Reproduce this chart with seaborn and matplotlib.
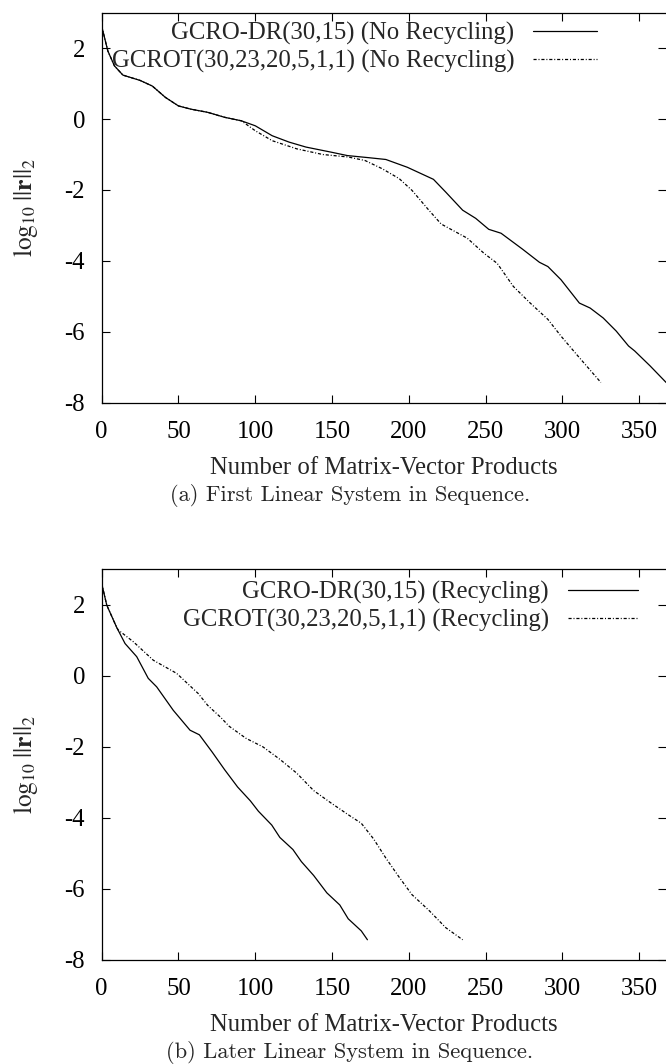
import numpy as np
import pandas as pd
import matplotlib
matplotlib.use("Agg")
import matplotlib.pyplot as plt
import seaborn as sns

# --- data (x: matrix-vector products, y: log10 residual) ---
a_dr_x = [0, 4, 8.3, 13.8, 25, 33, 41.5, 50, 58, 69, 80, 91, 100, 111, 122, 133, 149,
          160, 174, 185, 199, 216, 224, 235, 243.5, 252, 260, 274, 285, 290.5, 299, 311,
          318, 326.5, 335, 343, 347, 357, 367.5]
a_dr_y = [2.62, 1.92, 1.50, 1.24, 1.09, 0.93, 0.61, 0.37, 0.28, 0.19, 0.05, -0.05, -0.19,
          -0.47, -0.65, -0.79, -0.93, -1.03, -1.09, -1.14, -1.36, -1.70, -2.06, -2.57,
          -2.80, -3.11, -3.22, -3.67, -4.04, -4.16, -4.53, -5.19, -5.33, -5.61, -5.98,
          -6.40, -6.54, -6.96, -7.43]

a_ot_x = [0, 4, 8.3, 13.8, 25, 33, 41.5, 50, 58, 69, 80, 91, 100, 111, 127, 144, 160.5,
          171.5, 182.6, 193.7, 202, 213, 221, 238, 249, 257.5, 268, 279, 290.5, 299, 310, 325]
a_ot_y = [2.62, 1.92, 1.50, 1.24, 1.09, 0.93, 0.61, 0.37, 0.28, 0.19, 0.05, -0.05, -0.33,
          -0.61, -0.84, -1.00, -1.07, -1.17, -1.40, -1.68, -2.01, -2.57, -2.96, -3.36,
          -3.79, -4.07, -4.72, -5.19, -5.65, -6.12, -6.68, -7.43]

b_dr_x = [0, 3.3, 9.8, 15.2, 22.8, 30.3, 35.8, 46.6, 57.5, 63.6, 72, 80, 88.5, 96.8, 102,
          110.7, 116, 124.5, 130, 138, 146.6, 155, 160.5, 169, 173]
b_dr_y = [2.60, 1.99, 1.36, 0.91, 0.54, -0.07, -0.31, -0.97, -1.53, -1.66, -2.15, -2.64,
          -3.13, -3.52, -3.81, -4.20, -4.55, -4.89, -5.23, -5.62, -6.11, -6.45, -6.84,
          -7.18, -7.43]

b_ot_x = [0, 3.3, 9.8, 10.8, 20.6, 33.6, 48.8, 62.9, 69, 77.5, 83, 94, 105, 116, 127, 138,
          149, 160.5, 169, 177, 185, 193.7, 202, 213, 224, 235]
b_ot_y = [2.60, 1.99, 1.36, 1.29, 0.96, 0.44, 0.07, -0.50, -0.83, -1.17, -1.42, -1.76,
          -2.00, -2.35, -2.74, -3.23, -3.57, -3.91, -4.15, -4.59, -5.13, -5.67, -6.16,
          -6.60, -7.09, -7.43]

x_ticks = [0, 50, 100, 150, 200, 250, 300, 350]
y_ticks = [-8, -6, -4, -2, 0, 2]

panels = [
    {
        "series": [("GCRO-DR(30,15) (No Recycling)", a_dr_x, a_dr_y),
                   ("GCROT(30,23,20,5,1,1) (No Recycling)", a_ot_x, a_ot_y)],
        "caption": "(a) First Linear System in Sequence.",
    },
    {
        "series": [("GCRO-DR(30,15) (Recycling)", b_dr_x, b_dr_y),
                   ("GCROT(30,23,20,5,1,1) (Recycling)", b_ot_x, b_ot_y)],
        "caption": "(b) Later Linear System in Sequence.",
    },
]

sns.set_theme(style="ticks")
plt.rcParams["font.family"] = ["Liberation Serif", "DejaVu Serif"]
plt.rcParams["mathtext.fontset"] = "stix"
plt.rcParams["axes.unicode_minus"] = False

W, H = 666, 1064
fig = plt.figure(figsize=(W / 100, H / 100), dpi=100)

# axes boxes in pixels: (left, top, right, bottom)
boxes = [(101.7, 12.7, 666, 402.7), (101.7, 569.3, 666, 960)]
legend_anchor = [(597, 22), (638, 581)]
handle_len = [2.6, 2.85]
fs = 17.8
styles = ["-", (0, (2.5, 1.5, 0.8, 1.5))]

for i, panel in enumerate(panels):
    l, t, r, b = boxes[i]
    ax = fig.add_axes([l / W, 1 - b / H, (r - l) / W, (b - t) / H])
    for (label, xs, ys), ls in zip(panel["series"], styles):
        df = pd.DataFrame({"x": xs, "y": ys})
        sns.lineplot(data=df, x="x", y="y", ax=ax, color="black", lw=0.9,
                     linestyle=ls, label=label, sort=False, estimator=None)
    ax.set_xlim(0, 367.4)
    ax.set_ylim(-8, 3)
    ax.set_xticks(x_ticks)
    ax.set_yticks(y_ticks)
    ax.tick_params(direction="in", top=True, right=True, length=6, width=0.8,
                   labelsize=fs, pad=13, colors="black")
    ax.tick_params(axis="y", pad=12)
    for side in ["left", "bottom", "top"]:
        ax.spines[side].set_linewidth(0.9)
        ax.spines[side].set_color("black")
    ax.spines["right"].set_visible(False)
    ax.set_xlabel("Number of Matrix-Vector Products", fontsize=fs, labelpad=10)
    ax.set_ylabel(r"$\mathrm{log}_{10}\;||\mathbf{r}||_2$", fontsize=fs + 0.5)
    ax.yaxis.set_label_coords(-0.11, 0.5)
    ax.grid(False)

    ax_x, ax_y = legend_anchor[i]
    ax.legend(loc="upper right", bbox_to_anchor=(ax_x / W, 1 - ax_y / H),
              bbox_transform=fig.transFigure, markerfirst=False, frameon=False,
              fontsize=fs, handlelength=handle_len[i], handletextpad=0.75,
              labelspacing=0.2, borderpad=0, borderaxespad=0)

    fig.text(350 / W, 1 - (b + 93) / H, panel["caption"], family="cmr10",
             fontsize=16.2, ha="center", va="center")

fig.savefig("out.png", dpi=100)
